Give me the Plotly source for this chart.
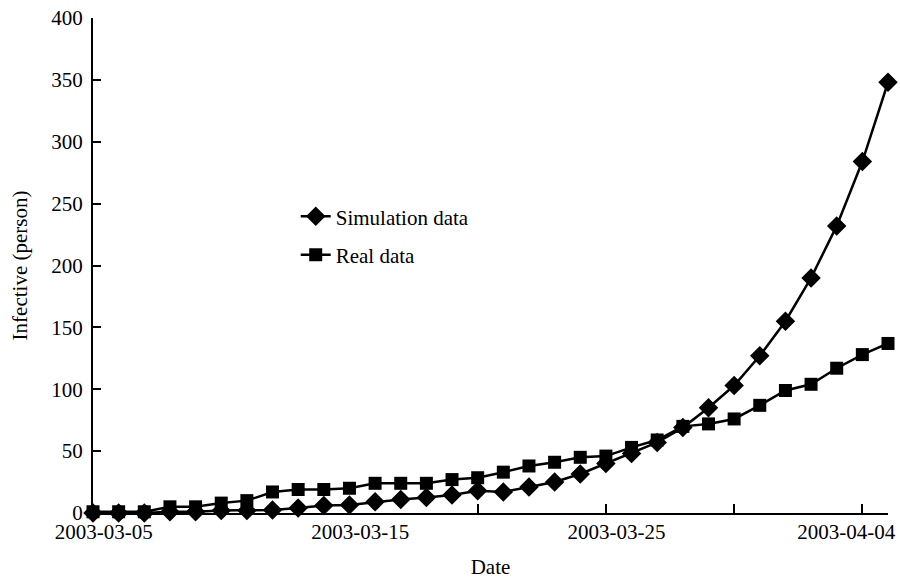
import plotly.graph_objects as go

dates = ["2003-03-05", "2003-03-06", "2003-03-07", "2003-03-08", "2003-03-09", "2003-03-10",
         "2003-03-11", "2003-03-12", "2003-03-13", "2003-03-14", "2003-03-15", "2003-03-16",
         "2003-03-17", "2003-03-18", "2003-03-19", "2003-03-20", "2003-03-21", "2003-03-22",
         "2003-03-23", "2003-03-24", "2003-03-25", "2003-03-26", "2003-03-27", "2003-03-28",
         "2003-03-29", "2003-03-30", "2003-03-31", "2003-04-01", "2003-04-02", "2003-04-03",
         "2003-04-04", "2003-04-05"]

simulation = [0, 0, 0, 1, 1, 2, 2, 2.5, 4, 6, 6.5, 9, 11, 12.5, 14.5, 18, 17, 21, 25, 31.5,
              40, 48, 57, 69, 85, 103, 127, 155, 190, 232, 284, 348]
real = [1, 1, 1, 5, 5, 8, 10, 17, 19, 19, 20, 24, 24, 24, 27, 28.5, 33, 38, 41, 45, 46, 53,
        59, 70, 72, 76, 87, 99, 104, 117, 128, 137]

tick_dates = ["2003-03-05", "2003-03-10", "2003-03-15", "2003-03-20", "2003-03-25",
              "2003-03-30", "2003-04-04"]
label_dates = ["2003-03-05 10:00", "2003-03-15 10:00", "2003-03-25 10:00", "2003-04-03 09:00"]
label_text = ["2003-03-05", "2003-03-15", "2003-03-25", "2003-04-04"]

y_ticks = [0, 50, 100, 150, 200, 250, 300, 350, 400]

FONT = "Liberation Serif"
x_range = ["2003-03-05", "2003-04-05"]

fig = go.Figure()
fig.add_trace(go.Scatter(
    x=dates, y=simulation, name="Simulation data", mode="lines+markers",
    line=dict(color="black", width=2.5),
    marker=dict(symbol="diamond", size=15, color="black"),
    cliponaxis=False, legendgroup="a"))
fig.add_trace(go.Scatter(
    x=dates, y=real, name="Real data", mode="lines+markers",
    line=dict(color="black", width=2.5),
    marker=dict(symbol="square", size=13, color="black"),
    cliponaxis=False, legendgroup="b"))

fig.update_layout(
    width=900, height=579,
    margin=dict(l=93, r=12, t=18, b=66, autoexpand=False),
    paper_bgcolor="white", plot_bgcolor="white",
    font=dict(family=FONT, size=21, color="black"),
    showlegend=True,
    legend=dict(x=0.255, y=0.64, xanchor="left", yanchor="top",
                bgcolor="rgba(0,0,0,0)", font=dict(size=21), tracegroupgap=8),
    xaxis=dict(
        type="date", range=x_range, tickvals=tick_dates, showticklabels=False,
        ticks="inside", ticklen=9, tickwidth=2, tickcolor="black", automargin=False,
        showline=True, linecolor="black", linewidth=2, showgrid=False, zeroline=False,
        title=None),
    xaxis2=dict(
        type="date", range=x_range, overlaying="x", side="bottom", anchor="y",
        tickvals=label_dates, ticktext=label_text, ticks="", showline=False,
        showgrid=False, zeroline=False, ticklabeloverflow="allow", automargin=False,
        ticklabelstandoff=4,
        tickfont=dict(family=FONT, size=21, color="black"),
        title=dict(text="Date", font=dict(family=FONT, size=21), standoff=18)),
    yaxis=dict(
        range=[0, 400], tickvals=y_ticks, ticks="inside", ticklen=8, tickwidth=2,
        tickcolor="black", showline=True, linecolor="black", linewidth=2, automargin=False,
        showgrid=False, zeroline=False, ticklabelstandoff=4,
        title=dict(text="Infective (person)", font=dict(family=FONT, size=21), standoff=18)),
)
fig.add_trace(go.Scatter(x=[dates[0]], y=[None], xaxis="x2", yaxis="y",
                         showlegend=False, hoverinfo="skip"))

fig.write_html("out.html", config={"displayModeBar": False},
               post_script="document.body.style.margin='0';")
